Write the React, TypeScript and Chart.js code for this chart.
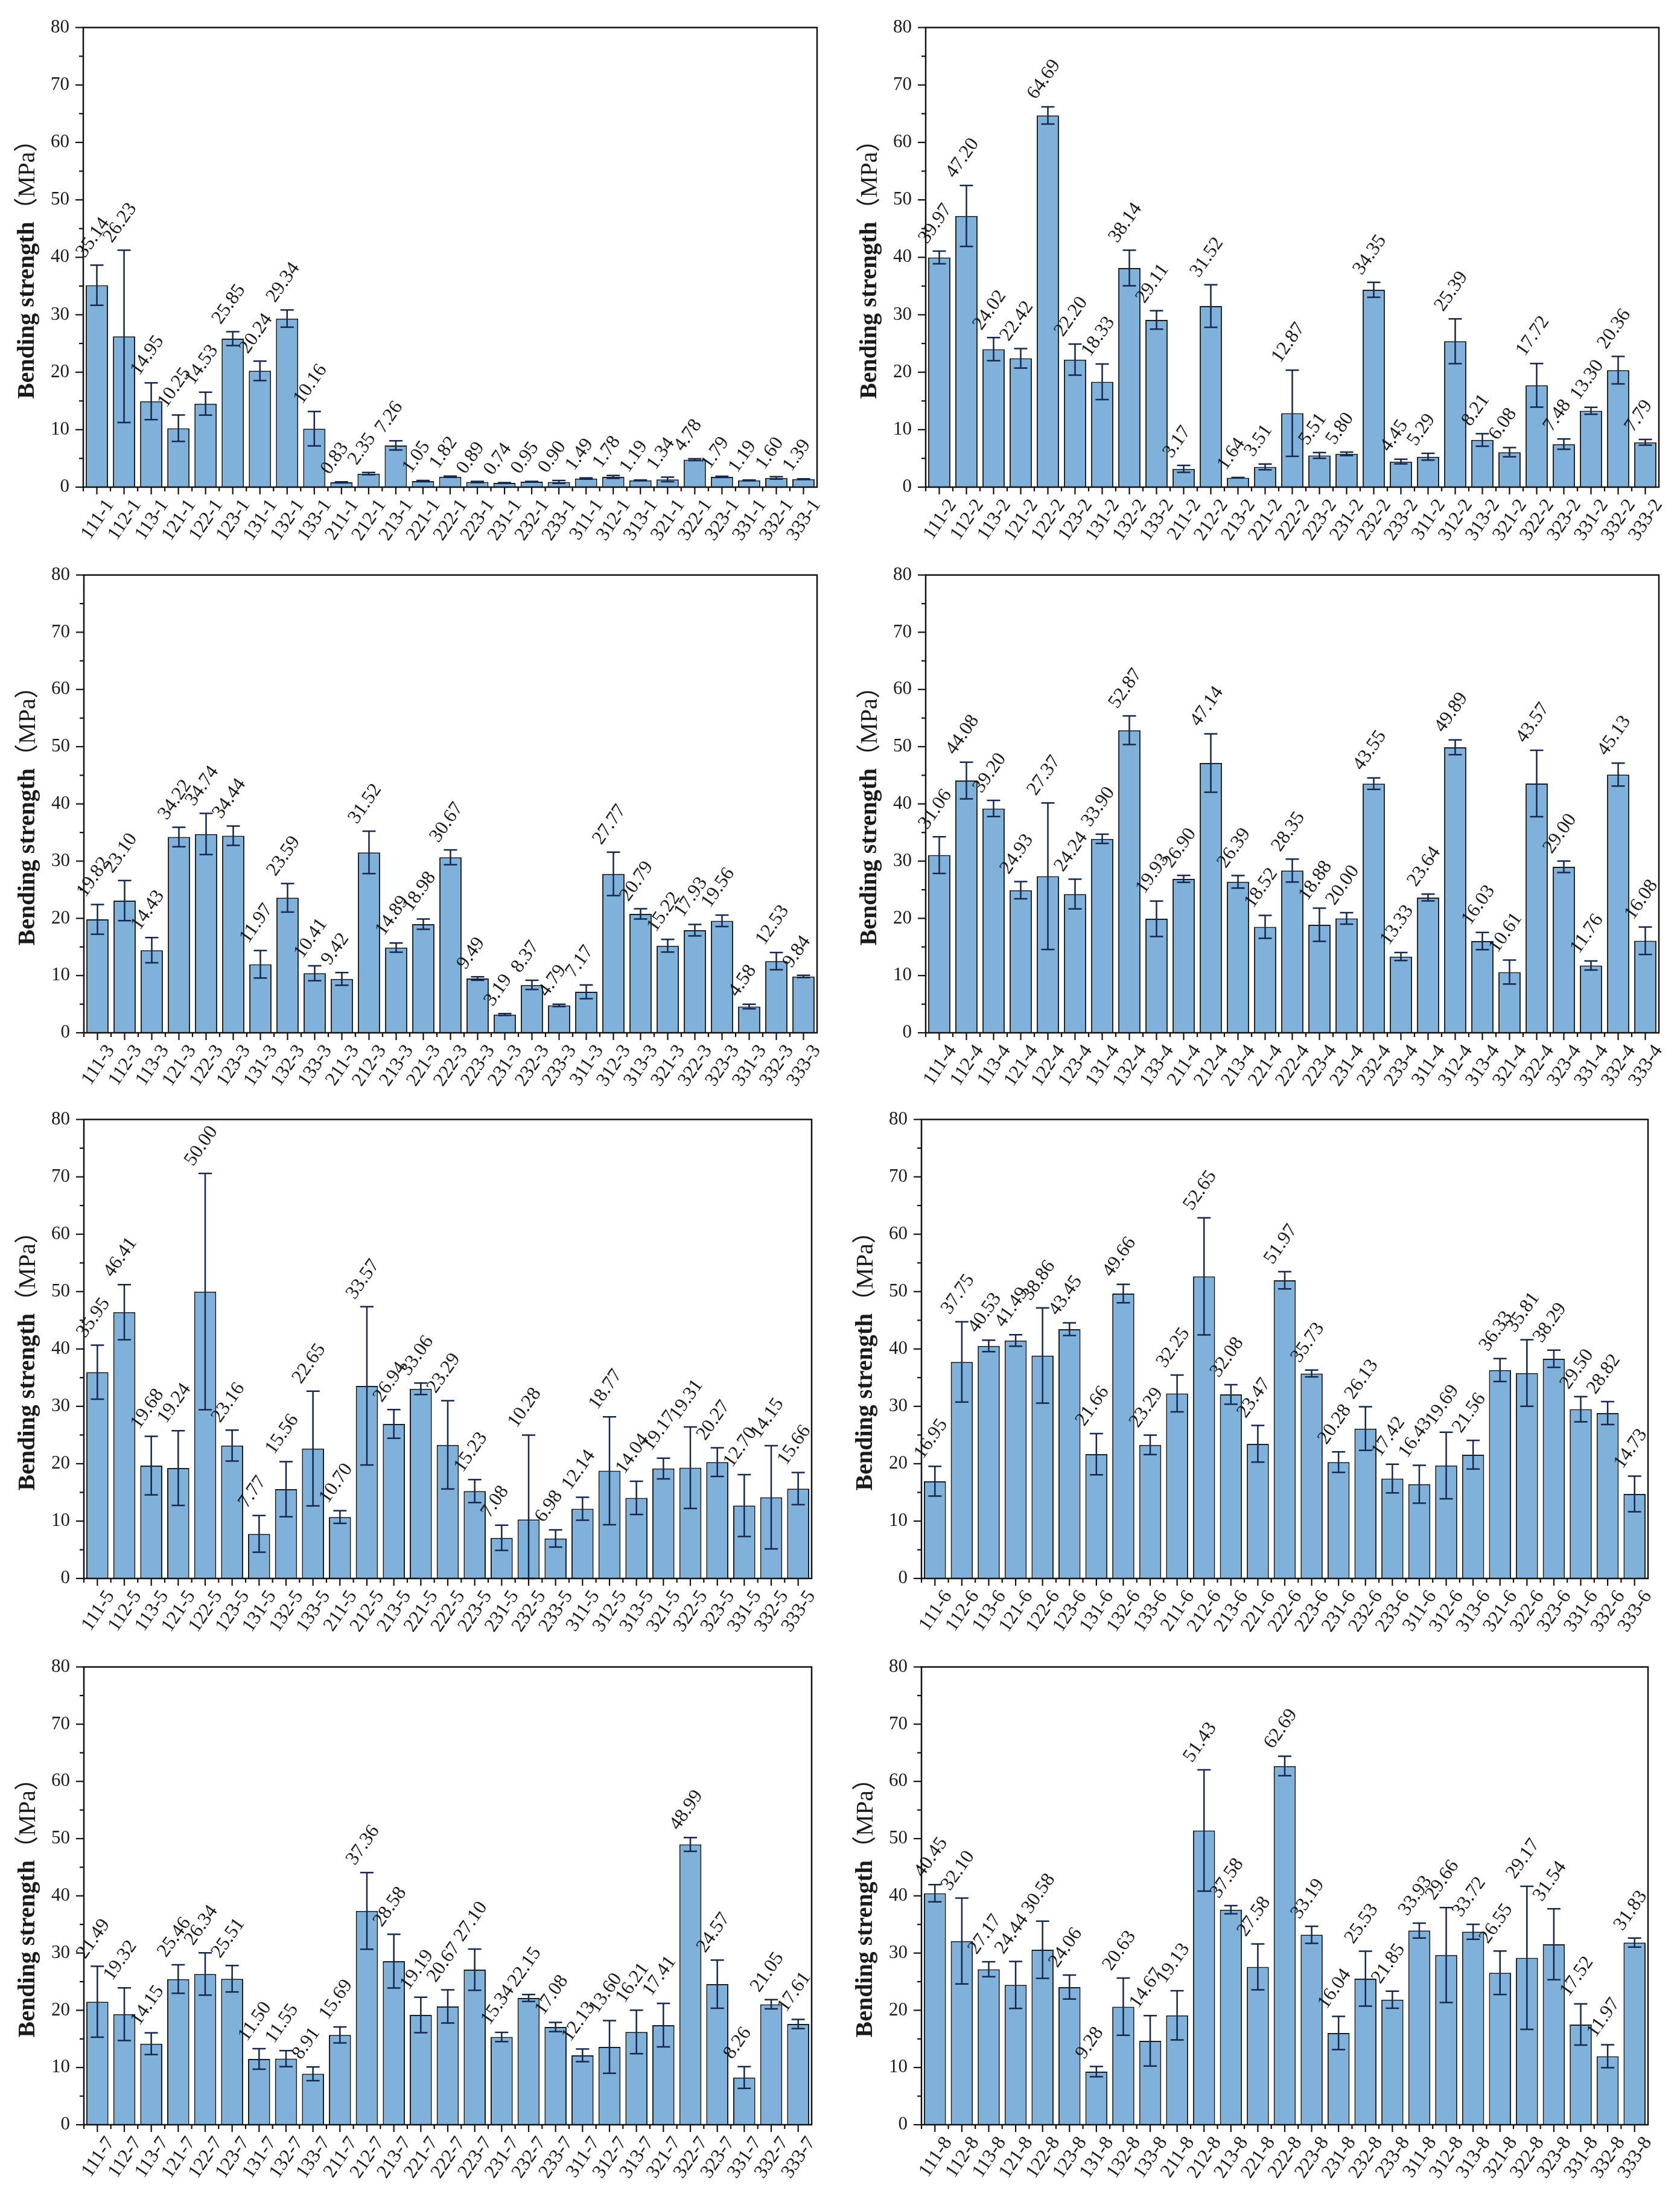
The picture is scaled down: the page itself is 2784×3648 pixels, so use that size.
import React, { useEffect, useRef } from 'react';
import { Chart, registerables } from 'chart.js';

Chart.register(...registerables);

// ---------- data ----------
const codes = [
  '111', '112', '113', '121', '122', '123', '131', '132', '133',
  '211', '212', '213', '221', '222', '223', '231', '232', '233',
  '311', '312', '313', '321', '322', '323', '331', '332', '333',
];
const yTickValues = [0, 10, 20, 30, 40, 50, 60, 70, 80];
const yTitleMain = 'Bending strength';
const yTitleUnit = '（MPa）';

const means1 = [35.14, 26.23, 14.95, 10.25, 14.53, 25.85, 20.24, 29.34, 10.16, 0.83, 2.35, 7.26, 1.05, 1.82, 0.89, 0.74, 0.95, 0.90, 1.49, 1.78, 1.19, 1.34, 4.78, 1.79, 1.19, 1.60, 1.39];
const errs1 = [3.5, 15.0, 3.2, 2.3, 2.0, 1.2, 1.7, 1.5, 3.0, 0.1, 0.2, 0.8, 0.1, 0.1, 0.1, 0.05, 0.05, 0.25, 0.1, 0.25, 0.05, 0.4, 0.15, 0.1, 0.05, 0.2, 0.05];

const means2 = [39.97, 47.20, 24.02, 22.42, 64.69, 22.20, 18.33, 38.14, 29.11, 3.17, 31.52, 1.64, 3.51, 12.87, 5.51, 5.80, 34.35, 4.45, 5.29, 25.39, 8.21, 6.08, 17.72, 7.48, 13.30, 20.36, 7.79];
const errs2 = [1.1, 5.3, 2.0, 1.7, 1.5, 2.7, 3.1, 3.1, 1.6, 0.6, 3.7, 0.05, 0.5, 7.5, 0.5, 0.3, 1.3, 0.4, 0.6, 3.9, 1.1, 0.8, 3.8, 0.9, 0.6, 2.4, 0.5];

const means3 = [19.82, 23.10, 14.43, 34.22, 34.74, 34.44, 11.97, 23.59, 10.41, 9.42, 31.52, 14.89, 18.98, 30.67, 9.49, 3.19, 8.37, 4.79, 7.17, 27.77, 20.79, 15.22, 17.93, 19.56, 4.58, 12.53, 9.84];
const errs3 = [2.6, 3.5, 2.2, 1.7, 3.6, 1.7, 2.4, 2.5, 1.3, 1.1, 3.7, 0.8, 0.9, 1.3, 0.3, 0.15, 0.8, 0.2, 1.2, 3.8, 0.9, 1.1, 1.0, 1.0, 0.4, 1.5, 0.2];

const means4 = [31.06, 44.08, 39.20, 24.93, 27.37, 24.24, 33.90, 52.87, 19.93, 26.90, 47.14, 26.39, 18.52, 28.35, 18.88, 20.00, 43.55, 13.33, 23.64, 49.89, 16.03, 10.61, 43.57, 29.00, 11.76, 45.13, 16.08];
const errs4 = [3.2, 3.2, 1.4, 1.5, 12.8, 2.6, 0.8, 2.5, 3.1, 0.6, 5.1, 1.1, 2.0, 2.0, 2.9, 1.0, 1.0, 0.7, 0.6, 1.3, 1.5, 2.1, 5.8, 1.0, 0.8, 2.0, 2.4];

const means5 = [35.95, 46.41, 19.68, 19.24, 50.00, 23.16, 7.77, 15.56, 22.65, 10.70, 33.57, 26.94, 33.06, 23.29, 15.23, 7.08, 10.28, 6.98, 12.14, 18.77, 14.04, 19.17, 19.31, 20.27, 12.70, 14.15, 15.66];
const errs5 = [4.7, 4.8, 5.1, 6.5, 20.6, 2.7, 3.2, 4.8, 10.0, 1.1, 13.8, 2.5, 1.0, 7.7, 2.0, 2.2, 14.7, 1.5, 2.0, 9.4, 2.9, 1.8, 7.1, 2.5, 5.4, 9.0, 2.8];

const means6 = [16.95, 37.75, 40.53, 41.49, 38.86, 43.45, 21.66, 49.66, 23.29, 32.25, 52.65, 32.08, 23.47, 51.97, 35.73, 20.28, 26.13, 17.42, 16.43, 19.69, 21.56, 36.33, 35.81, 38.29, 29.50, 28.82, 14.73];
const errs6 = [2.6, 7.0, 1.0, 1.0, 8.3, 1.1, 3.6, 1.6, 1.7, 3.2, 10.2, 1.7, 3.2, 1.5, 0.6, 1.8, 3.8, 2.5, 3.3, 5.8, 2.5, 2.0, 5.8, 1.5, 2.2, 2.0, 3.1];

const means7 = [21.49, 19.32, 14.15, 25.46, 26.34, 25.51, 11.50, 11.55, 8.91, 15.69, 37.36, 28.58, 19.19, 20.67, 27.10, 15.34, 22.15, 17.08, 12.13, 13.60, 16.21, 17.41, 48.99, 24.57, 8.26, 21.05, 17.61];
const errs7 = [6.2, 4.6, 1.9, 2.5, 3.7, 2.3, 1.8, 1.4, 1.2, 1.4, 6.7, 4.7, 3.1, 2.9, 3.6, 0.8, 0.6, 0.8, 1.1, 4.6, 3.8, 3.8, 1.2, 4.2, 1.9, 0.8, 0.8];

const means8 = [40.45, 32.10, 27.17, 24.44, 30.58, 24.06, 9.28, 20.63, 14.67, 19.13, 51.43, 37.58, 27.58, 62.69, 33.19, 16.04, 25.53, 21.85, 33.93, 29.66, 33.72, 26.55, 29.17, 31.54, 17.52, 11.97, 31.83];
const errs8 = [1.5, 7.5, 1.3, 4.1, 5.0, 2.1, 0.9, 5.0, 4.4, 4.3, 10.6, 0.7, 4.0, 1.7, 1.5, 2.9, 4.8, 1.5, 1.3, 8.3, 1.3, 3.8, 12.5, 6.2, 3.6, 2.0, 0.8];

const panelMeans = [means1, means2, means3, means4, means5, means6, means7, means8];
const panelErrs = [errs1, errs2, errs3, errs4, errs5, errs6, errs7, errs8];

// ---------- layout (plot-area rectangles in page pixels) ----------
const plotRects = [
  { L: 138, T: 44, R: 1354, B: 807 },
  { L: 1534, T: 44, R: 2749, B: 807 },
  { L: 139, T: 951, R: 1354, B: 1711 },
  { L: 1534, T: 951, R: 2749, B: 1711 },
  { L: 139, T: 1853, R: 1345, B: 2615 },
  { L: 1527, T: 1853, R: 2731, B: 2615 },
  { L: 139, T: 2760, R: 1345, B: 3520 },
  { L: 1527, T: 2760, R: 2731, B: 3520 },
];
const AXIS_W = 138;
const PAD_TOP = 40;
const PAD_RIGHT = 30;
const XAXIS_H = 100;

const SERIF = '"Liberation Serif", "Times New Roman", "Noto Sans CJK SC", serif';
const TEXT = '#1a1a1a';
const BAR = '#80B1DA';
const ERR = '#16274a';
const ROT = (55 * Math.PI) / 180;

const decorPlugin = {
  id: 'decor',
  afterDatasetsDraw(chart: any, _args: any, opts: any) {
    const { ctx, chartArea: a } = chart;
    const x = chart.scales.x;
    const y = chart.scales.y;
    const means: number[] = opts.means;
    const errs: number[] = opts.errs;
    const n = means.length;
    const step = (a.right - a.left) / n;
    ctx.save();

    // error bars
    ctx.strokeStyle = ERR;
    ctx.lineWidth = 2.5;
    for (let i = 0; i < n; i++) {
      const cx = x.getPixelForValue(i);
      const yt = y.getPixelForValue(means[i] + errs[i]);
      const yb = y.getPixelForValue(Math.max(0, means[i] - errs[i]));
      const cap = 11;
      ctx.beginPath();
      ctx.moveTo(cx, yt);
      ctx.lineTo(cx, yb);
      ctx.moveTo(cx - cap, yt);
      ctx.lineTo(cx + cap, yt);
      ctx.moveTo(cx - cap, yb);
      ctx.lineTo(cx + cap, yb);
      ctx.stroke();
    }

    // frame
    ctx.strokeStyle = '#111';
    ctx.lineWidth = 2.5;
    ctx.strokeRect(a.left, a.top, a.right - a.left, a.bottom - a.top);

    // y ticks (major + minor, outward)
    ctx.lineWidth = 2.2;
    for (let v = 0; v <= 80; v += 5) {
      const py = y.getPixelForValue(v);
      const len = v % 10 === 0 ? 13 : 7;
      ctx.beginPath();
      ctx.moveTo(a.left - len, py);
      ctx.lineTo(a.left, py);
      ctx.stroke();
    }
    // x ticks: major at bar centres, minor at boundaries
    for (let i = 0; i < n; i++) {
      const cx = x.getPixelForValue(i);
      ctx.beginPath();
      ctx.moveTo(cx, a.bottom);
      ctx.lineTo(cx, a.bottom + 12);
      const bx = cx - step / 2;
      ctx.moveTo(bx, a.bottom);
      ctx.lineTo(bx, a.bottom + 7);
      ctx.stroke();
    }

    // value labels
    ctx.fillStyle = TEXT;
    ctx.font = `32px ${SERIF}`;
    ctx.textAlign = 'left';
    ctx.textBaseline = 'alphabetic';
    for (let i = 0; i < n; i++) {
      const cx = x.getPixelForValue(i);
      const yt = y.getPixelForValue(means[i] + errs[i]);
      ctx.save();
      ctx.translate(cx - 20, yt - 11);
      ctx.rotate(-ROT);
      ctx.fillText(means[i].toFixed(2), 0, 0);
      ctx.restore();
    }

    // y-axis title: bold main part + regular unit
    const boldFont = `bold 40px ${SERIF}`;
    const regFont = `40px ${SERIF}`;
    ctx.font = boldFont;
    const w1 = ctx.measureText(yTitleMain).width;
    ctx.font = regFont;
    const w2 = ctx.measureText(yTitleUnit).width;
    const total = w1 + w2;
    ctx.save();
    ctx.translate(a.left - 92, (a.top + a.bottom) / 2 + 10);
    ctx.rotate(-Math.PI / 2);
    ctx.textBaseline = 'middle';
    ctx.textAlign = 'left';
    ctx.font = boldFont;
    ctx.fillText(yTitleMain, -total / 2, 0);
    ctx.font = regFont;
    ctx.fillText(yTitleUnit, -total / 2 + w1, 0);
    ctx.restore();

    ctx.restore();
  },
};

function Panel({ idx }: { idx: number }) {
  const ref = useRef<HTMLCanvasElement | null>(null);
  const r = plotRects[idx];
  const width = r.R - r.L + AXIS_W + PAD_RIGHT;
  const height = r.B - r.T + PAD_TOP + XAXIS_H;
  useEffect(() => {
    if (!ref.current) return;
    const means = panelMeans[idx];
    const errs = panelErrs[idx];
    const labels = codes.map((c) => `${c}-${idx + 1}`);
    const chart = new Chart(ref.current, {
      type: 'bar',
      data: {
        labels,
        datasets: [
          {
            data: means,
            backgroundColor: BAR,
            borderColor: '#1c1c1c',
            borderWidth: 2,
            barPercentage: 0.82,
            categoryPercentage: 1,
          },
        ],
      },
      options: {
        responsive: false,
        animation: false,
        devicePixelRatio: 1,
        layout: { padding: { left: 0, top: PAD_TOP, right: PAD_RIGHT, bottom: 0 } },
        plugins: {
          legend: { display: false },
          tooltip: { enabled: false },
          decor: { means, errs },
        } as any,
        scales: {
          x: {
            type: 'category',
            offset: true,
            grid: { display: false, drawTicks: false },
            border: { display: false },
            ticks: {
              autoSkip: false,
              minRotation: 56,
              maxRotation: 56,
              padding: 13,
              labelOffset: 22,
              color: TEXT,
              font: { family: SERIF, size: 32 },
            },
            afterFit: (s: any) => {
              s.height = XAXIS_H;
            },
          },
          y: {
            min: 0,
            max: 80,
            grid: { display: false, drawTicks: false },
            border: { display: false },
            ticks: {
              stepSize: 10,
              padding: 23,
              color: TEXT,
              font: { family: SERIF, size: 31 },
              callback: (v: any) => (yTickValues.includes(Number(v)) ? String(v) : ''),
            },
            title: { display: false },
            afterFit: (s: any) => {
              s.width = AXIS_W;
            },
          },
        },
      },
      plugins: [decorPlugin],
    } as any);
    return () => chart.destroy();
  }, [idx]);
  return (
    <canvas
      ref={ref}
      width={width}
      height={height}
      style={{
        position: 'absolute',
        left: r.L - AXIS_W,
        top: r.T - PAD_TOP,
        width,
        height,
      }}
    />
  );
}

export default function App() {
  return (
    <div
      style={{
        position: 'absolute',
        left: 0,
        top: 0,
        width: 2784,
        height: 3648,
        background: '#ffffff',
        overflow: 'hidden',
      }}
    >
      {plotRects.map((_, i) => (
        <Panel key={i} idx={i} />
      ))}
    </div>
  );
}
